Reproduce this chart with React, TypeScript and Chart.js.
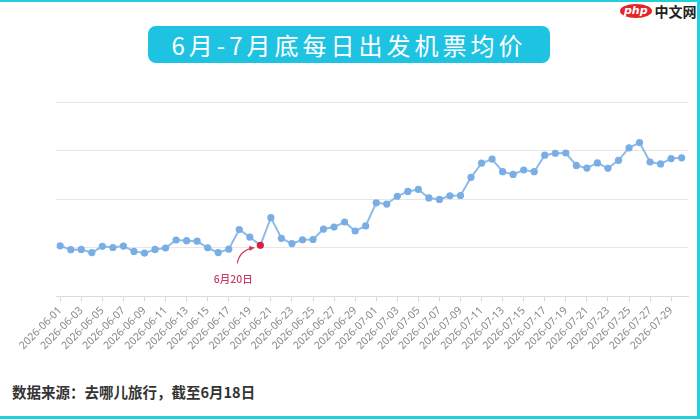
import React, { useEffect, useRef } from "react";
import { Chart, registerables } from "chart.js";

Chart.register(...registerables);

const dates: string[] = [
  "2026-06-01","2026-06-02","2026-06-03","2026-06-04","2026-06-05","2026-06-06","2026-06-07","2026-06-08","2026-06-09","2026-06-10",
  "2026-06-11","2026-06-12","2026-06-13","2026-06-14","2026-06-15","2026-06-16","2026-06-17","2026-06-18","2026-06-19","2026-06-20",
  "2026-06-21","2026-06-22","2026-06-23","2026-06-24","2026-06-25","2026-06-26","2026-06-27","2026-06-28","2026-06-29","2026-06-30",
  "2026-07-01","2026-07-02","2026-07-03","2026-07-04","2026-07-05","2026-07-06","2026-07-07","2026-07-08","2026-07-09","2026-07-10",
  "2026-07-11","2026-07-12","2026-07-13","2026-07-14","2026-07-15","2026-07-16","2026-07-17","2026-07-18","2026-07-19","2026-07-20",
  "2026-07-21","2026-07-22","2026-07-23","2026-07-24","2026-07-25","2026-07-26","2026-07-27","2026-07-28","2026-07-29","2026-07-30",
];

const prices: number[] = [
  808, 792, 793, 780, 806, 801, 807, 785, 778, 793,
  799, 832, 829, 827, 800, 780, 794, 875, 844, 810,
  924, 839, 817, 833, 834, 877, 885, 906, 869, 890,
  985, 980, 1012, 1032, 1040, 1005, 999, 1014, 1015, 1090,
  1148, 1165, 1113, 1102, 1120, 1113, 1181, 1189, 1190, 1139,
  1128, 1149, 1127, 1160, 1211, 1233, 1153, 1145, 1167, 1170,
];

const highlightIndex = 19;
const highlightLabel = "6月20日";
const yMin = 600;
const yMax = 1400;
const yStep = 200;

const titleText = "6月-7月底每日出发机票均价";
const sourceText = "数据来源：去哪儿旅行，截至6月18日";

const CYAN = "#1fc3e2";
const FRAME = "#22cfdc";

const annotationPlugin = {
  id: "highlightAnnotation",
  afterDatasetsDraw(chart: any) {
    const meta = chart.getDatasetMeta(0);
    const pt = meta.data[highlightIndex];
    if (!pt) return;
    const { x, y } = pt;
    const ctx = chart.ctx;
    ctx.save();
    const col = "#c93a62";
    ctx.strokeStyle = col;
    ctx.fillStyle = col;
    ctx.lineWidth = 1.2;
    const sx = x - 23, sy = y + 18;
    const cx = x - 21, cy = y + 5;
    const ex = x - 7, ey = y + 2.5;
    ctx.beginPath();
    ctx.moveTo(sx, sy);
    ctx.quadraticCurveTo(cx, cy, ex, ey);
    ctx.stroke();
    const ang = Math.atan2(ey - cy, ex - cx);
    ctx.beginPath();
    ctx.moveTo(ex + 1.5 * Math.cos(ang), ey + 1.5 * Math.sin(ang));
    ctx.lineTo(ex - 4 * Math.cos(ang) - 2.5 * Math.sin(ang), ey - 4 * Math.sin(ang) + 2.5 * Math.cos(ang));
    ctx.lineTo(ex - 4 * Math.cos(ang) + 2.5 * Math.sin(ang), ey - 4 * Math.sin(ang) - 2.5 * Math.cos(ang));
    ctx.closePath();
    ctx.fill();
    ctx.font = "500 10.5px 'Noto Sans CJK SC', 'Noto Sans', sans-serif";
    ctx.textAlign = "center";
    ctx.textBaseline = "middle";
    ctx.fillText(highlightLabel, x - 27, y + 34);
    ctx.restore();
  },
};

function LineChart() {
  const ref = useRef<HTMLCanvasElement | null>(null);
  useEffect(() => {
    if (!ref.current) return;
    const pointColors = prices.map((_, i) => (i === highlightIndex ? "#d8203a" : "#79ade6"));
    const chart = new Chart(ref.current, {
      type: "line",
      data: {
        datasets: [
          {
            data: prices.map((v, i) => ({ x: i, y: v })),
            borderColor: "#8ebbe8",
            borderWidth: 2,
            pointBackgroundColor: pointColors,
            pointBorderColor: pointColors,
            pointRadius: 3.6,
            pointBorderWidth: 0,
            tension: 0,
          },
        ],
      },
      options: {
        animation: false,
        responsive: true,
        maintainAspectRatio: false,
        layout: { padding: { left: 56, right: 9, top: 14, bottom: 7 } },
        plugins: { legend: { display: false }, tooltip: { enabled: false } },
        scales: {
          x: {
            type: "linear",
            min: -0.4,
            max: dates.length - 0.4,
            afterBuildTicks: (scale: any) => {
              const t: any[] = [];
              for (let i = 0; i < dates.length; i += 2) t.push({ value: i });
              scale.ticks = t;
            },
            ticks: {
              autoSkip: false,
              minRotation: 45,
              maxRotation: 45,
              padding: 3,
              color: "#888888",
              font: { family: "'Noto Sans', sans-serif", size: 10.5 },
              callback: (v: any) => dates[Number(v)] ?? "",
            },
            grid: { drawOnChartArea: false, drawTicks: true, tickLength: 5, color: "#d9d9d9" },
            border: { display: true, color: "#dcdcdc", width: 1 },
          },
          y: {
            min: yMin,
            max: yMax,
            ticks: { display: false, stepSize: yStep },
            grid: { color: "#e6e6e6", drawTicks: false },
            border: { display: false },
          },
        },
      },
      plugins: [annotationPlugin],
    });
    return () => chart.destroy();
  }, []);
  return <canvas ref={ref} />;
}

export default function App() {
  return (
    <div
      style={{
        position: "fixed",
        left: 0,
        top: 0,
        width: 700,
        height: 419,
        background: "#ffffff",
        boxSizing: "border-box",
        borderTop: `2px solid ${FRAME}`,
        borderRight: `3px solid ${FRAME}`,
        borderBottom: `3px solid ${FRAME}`,
        overflow: "hidden",
        fontFamily: "'Noto Sans CJK SC', 'Noto Sans', sans-serif",
      }}
    >
      <div
        style={{
          position: "absolute",
          left: 148,
          top: 24,
          width: 402,
          height: 37,
          background: CYAN,
          borderRadius: 8,
          color: "#ffffff",
          fontSize: 24,
          letterSpacing: 4,
          lineHeight: "37px",
          textAlign: "center",
          whiteSpace: "nowrap",
        }}
      >
        {titleText}
      </div>
      <div style={{ position: "absolute", left: 620, top: 1, height: 16, display: "flex", alignItems: "center" }}>
        <span
          style={{
            background: "#e2262b",
            color: "#fff",
            borderRadius: "50%",
            fontStyle: "italic",
            fontFamily: "'DejaVu Sans', sans-serif",
            fontSize: 11,
            lineHeight: "14px",
            padding: "0 4px",
            fontWeight: "bold",
          }}
        >
          php
        </span>
        <span style={{ color: "#222", fontSize: 14, fontWeight: "bold", marginLeft: 3, lineHeight: "16px" }}>中文网</span>
      </div>
      <div style={{ position: "absolute", left: 0, top: 86, width: 697, height: 274 }}>
        <LineChart />
      </div>
      <div
        style={{
          position: "absolute",
          left: 12,
          top: 380,
          fontSize: 14.5,
          fontWeight: 600,
          color: "#333333",
          lineHeight: "20px",
          whiteSpace: "nowrap",
        }}
      >
        {sourceText}
      </div>
    </div>
  );
}
